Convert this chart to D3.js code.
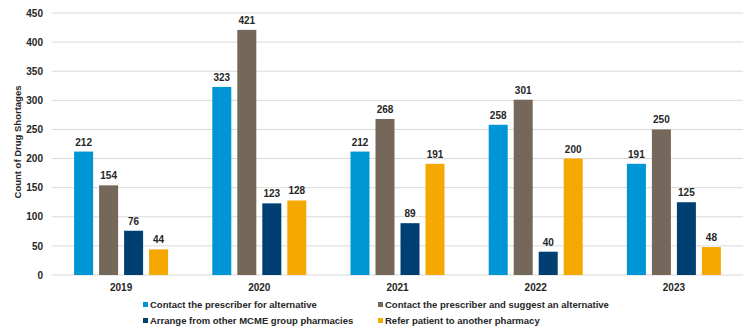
<!DOCTYPE html>
<html><head><meta charset="utf-8">
<script src="https://cdn.jsdelivr.net/npm/d3@7"></script>
<style>body{margin:0;background:#fff}svg{display:block;font-family:"Liberation Sans",Arial,sans-serif;font-weight:bold}</style>
</head><body><svg id="c" width="750" height="336"></svg>
<script>
const years = ["2019","2020","2021","2022","2023"];
const seriesNames = ["Contact the prescriber for alternative","Contact the prescriber and suggest an alternative","Arrange from other MCME group pharmacies","Refer patient to another pharmacy"];
const contactAlt = [212,323,212,258,191];
const contactSuggest = [154,421,268,301,250];
const arrangeMCME = [76,123,89,40,125];
const referPatient = [44,128,191,200,48];
const yTicks = [0,50,100,150,200,250,300,350,400,450];
const colors = ["#0096D6","#75685A","#003F72","#F5A800"];
const seriesVals = [contactAlt, contactSuggest, arrangeMCME, referPatient];

const svg = d3.select("#c");
const m = {l:52, r:7, t:13, b:61};
const W = 750, H = 336;
const FF = "Liberation Sans, Arial, sans-serif";
const x0 = d3.scaleBand().domain(years).range([m.l, W-m.r]).paddingInner(0).paddingOuter(0);
const x1 = d3.scaleBand().domain(d3.range(4)).range([0, 94]).paddingInner(0.24).paddingOuter(0);
const y = d3.scaleLinear().domain([0,450]).range([H-m.b, m.t]);

svg.append("g").selectAll("line").data(yTicks).join("line")
  .attr("x1", m.l).attr("x2", W-m.r)
  .attr("y1", d=>y(d)).attr("y2", d=>y(d))
  .attr("stroke", "#d9d9d9").attr("stroke-width", 1);

const yAxis = d3.axisLeft(y).tickValues(yTicks).tickSize(0).tickPadding(9);
const ya = svg.append("g").attr("transform", `translate(${m.l},0)`).call(yAxis);
ya.select(".domain").remove();
ya.selectAll("text").attr("font-size", 10).attr("font-weight","bold").attr("fill","#262626").attr("font-family",FF);

const xAxis = d3.axisBottom(x0).tickSize(0).tickPadding(9);
const xa = svg.append("g").attr("transform", `translate(0,${H-m.b})`).call(xAxis);
xa.select(".domain").remove();
xa.selectAll("text").attr("font-size", 10).attr("font-weight","bold").attr("fill","#262626").attr("font-family",FF);

const groups = svg.append("g").selectAll("g").data(years).join("g")
  .attr("transform", d => `translate(${x0(d) + (x0.bandwidth()-94)/2},0)`);
groups.each(function(yr, yi){
  const g = d3.select(this);
  seriesVals.forEach((vals, si) => {
    const v = vals[yi];
    g.append("rect").attr("x", x1(si)).attr("width", x1.bandwidth())
      .attr("y", y(v)).attr("height", y(0)-y(v)).attr("fill", colors[si]);
    g.append("text").attr("x", x1(si)+x1.bandwidth()/2).attr("y", y(v)-6)
      .attr("text-anchor","middle").attr("font-size", 10).attr("fill","#262626").text(v);
  });
});

svg.append("text").attr("transform", `translate(21,${(m.t + H-m.b)/2 - 2}) rotate(-90)`)
  .attr("text-anchor","middle").attr("font-size", 9.5).attr("fill","#262626").text("Count of Drug Shortages");

const legPos = [[143,305],[378,305],[143,321],[378,321]];
const leg = svg.append("g").selectAll("g").data(seriesNames).join("g")
  .attr("transform", (d,i)=>`translate(${legPos[i][0]},${legPos[i][1]})`);
leg.append("rect").attr("x",0).attr("y",-3).attr("width",5).attr("height",5).attr("fill",(d,i)=>colors[i]);
leg.append("text").attr("x",7).attr("y",0).attr("dy","0.35em").attr("font-size",9.5).attr("fill","#262626").text(d=>d);
</script></body></html>
